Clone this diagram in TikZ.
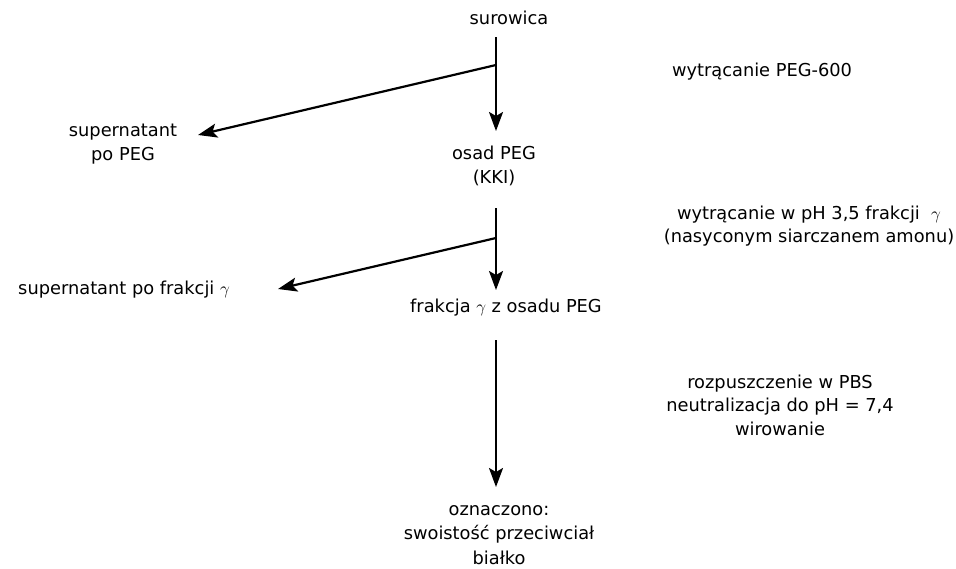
\documentclass[tikz,border=0pt]{standalone}
\usepackage{fontspec}
\setmainfont{DejaVu Sans}
\usetikzlibrary{arrows.meta}

\begin{document}
\begin{tikzpicture}[x=1pt,y=-1pt,
stage/.style={align=center, inner sep=0pt, font=\fontsize{17.8}{24.5}\selectfont},
remark/.style={stage, font=\fontsize{17.8}{23.5}\selectfont},
flow/.style={-{Stealth[length=19pt,width=14pt,inset=4pt]}, line width=2.2pt},
]
\useasboundingbox (0,0) rectangle (956,568);

% main line
\node[stage] (serum) at (509,18) {surowica};
\node[stage] (pegpellet) at (494,166) {osad PEG\\(KKI)};
\node[stage] (gamma) at (506,308) {frakcja $\gamma$ z osadu PEG};
\node[stage] (result) at (499,535) {oznaczono:\\swoisto\'s\'c przeciwcia\l\\bia\l ko};

% side products
\node[stage] (pegsuper) at (123,144) {supernatant\\po PEG};
\node[stage] (gammasuper) at (124,290) {supernatant po frakcji $\gamma$};

% steps
\node[remark] (step1) at (762,72) {wytr\k{a}canie PEG-600};
\node[remark] (step2) at (809,226) {wytr\k{a}canie w pH 3,5 frakcji~ $\gamma$\\(nasyconym siarczanem amonu)};
\node[remark] (step3) at (780,405) {rozpuszczenie w PBS\\neutralizacja do pH = 7,4\\wirowanie};

\coordinate (top1) at (496,37);
\coordinate (fork1) at (496,65);
\coordinate (end1) at (496,131);
\coordinate (tip1) at (198,135);
\coordinate (top2) at (496,208);
\coordinate (fork2) at (496,238);
\coordinate (end2) at (496,290);
\coordinate (tip2) at (278,289);
\coordinate (top3) at (496,340);
\coordinate (end3) at (496,487);

\draw[flow] (top1) -- (end1);
\draw[flow] (fork1) -- (tip1);
\draw[flow] (top2) -- (end2);
\draw[flow] (fork2) -- (tip2);
\draw[flow] (top3) -- (end3);

\end{tikzpicture}
\end{document}
